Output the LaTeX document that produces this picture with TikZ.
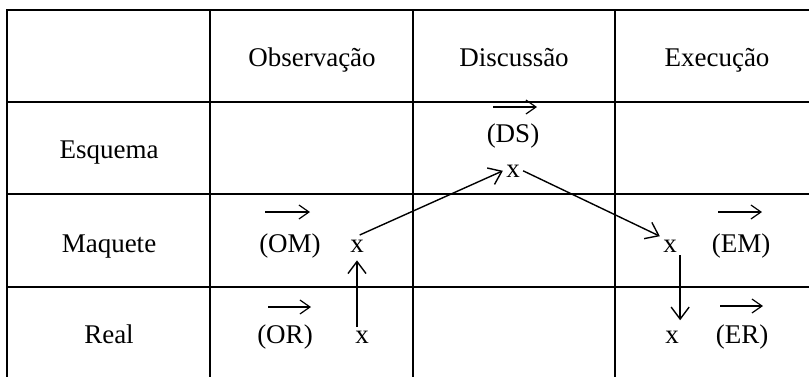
\documentclass[tikz,border=0pt]{standalone}
\usepackage{fontspec}
\setmainfont{Liberation Serif}
\usetikzlibrary{arrows.meta}

\begin{document}
\begin{tikzpicture}[x=0.5pt,y=-0.5pt,font=\fontsize{13.5}{16}\selectfont,
  grid/.style={line width=.9pt,line cap=rect},
  txt/.style={anchor=base,inner sep=0pt},
  xpt/.style={anchor=base,inner sep=1.5pt},
  flow/.style={-{Straight Barb[length=6pt,width=9pt]},line width=.7pt},
  vec/.style={-{Straight Barb[length=5pt,width=7pt]},line width=.6pt}]
\useasboundingbox (0,0) rectangle (809,376);
% table
\foreach \y in {10,102,194,287} \draw[grid] (7,\y)--(815,\y);
\foreach \x in {7,210,413,615} \draw[grid] (\x,10)--(\x,385);
% headings
\node[txt] (hObs) at (312,66) {Observação};
\node[txt] (hDis) at (514,66) {Discussão};
\node[txt] (hExe) at (717,66) {Execução};
\node[txt] (rEsq) at (109,158) {Esquema};
\node[txt] (rMaq) at (109,252) {Maquete};
\node[txt] (rReal) at (109,343) {Real};
% labels with vector arrows
\node[txt] (lDS) at (513,142) {(DS)};
\node[txt] (lOM) at (290,252) {(OM)};
\node[txt] (lOR) at (285,343) {(OR)};
\node[txt] (lEM) at (741,252) {(EM)};
\node[txt] (lER) at (742,343) {(ER)};
\draw[vec] ([shift={(-20,-35)}]lDS.base) -- ++(44,0);
\draw[vec] ([shift={(-25,-40)}]lOM.base) -- ++(45,0);
\draw[vec] ([shift={(-17,-36)}]lOR.base) -- ++(43,0);
\draw[vec] ([shift={(-23,-40)}]lEM.base) -- ++(44,0);
\draw[vec] ([shift={(-22,-37)}]lER.base) -- ++(43,0);
% points
\node[xpt] (xDS) at (513,177) {x};
\node[xpt] (xOM) at (357,252) {x};
\node[xpt] (xOR) at (362,343) {x};
\node[xpt] (xEM) at (670,252) {x};
\node[xpt] (xER) at (672,343) {x};
% path
\draw[flow,shorten >=2.5pt] (xOM.south |- xOR.north) -- (xOM.south);
\draw[flow,shorten <=1.5pt] (xOM.north) -- (xDS.west);
\draw[flow] (xDS.east) -- (xEM.north west);
\draw[flow,shorten >=3.5pt] (xEM.south east) -- (xEM.south east |- xER.north);
\end{tikzpicture}
\end{document}
